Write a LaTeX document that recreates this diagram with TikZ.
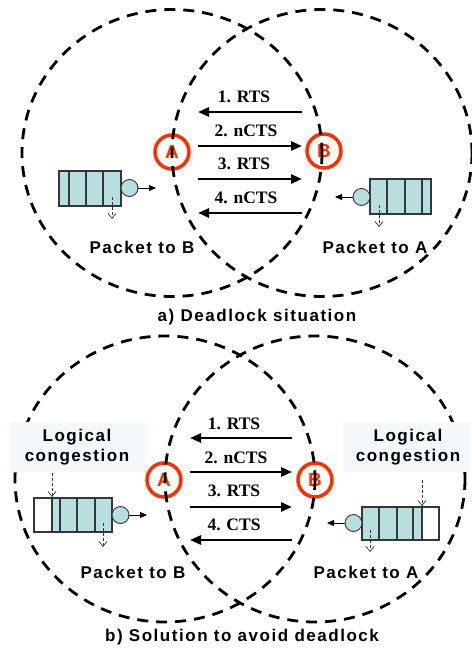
\documentclass[tikz,border=0pt]{standalone}
\usepackage{fontspec}
\setmainfont{Liberation Sans}
\newfontfamily\lblfont[LetterSpace=9]{Liberation Sans}
\newfontfamily\msgfont{Liberation Serif}
\usetikzlibrary{arrows.meta}

\definecolor{stationred}{RGB}{255,48,0}
\definecolor{qfill}{RGB}{184,222,224}
\definecolor{qline}{RGB}{50,55,55}
\definecolor{notebg}{RGB}{243,249,251}

\tikzset{
  rangeline/.style={line width=2.8pt, dash pattern=on 11pt off 8pt},
  station/.style={circle, draw=stationred, line width=3.5pt, minimum size=34pt,
    inner sep=0pt, text=stationred, font=\bfseries\fontsize{19}{19}\selectfont},
  msgarrow/.style={line width=2.6pt, -{Triangle[length=11pt,width=9pt]}},
  msglabel/.style={font=\msgfont\bfseries\fontsize{17.5}{18}\selectfont, inner sep=0pt},
  captiontext/.style={font=\lblfont\bfseries\fontsize{17}{20}\selectfont, inner sep=0pt, align=center},
  server/.style={circle, draw=qline, fill=qfill, line width=0.9pt, minimum size=17pt, inner sep=0pt},
  qcell/.style={draw=qline, fill=qfill, line width=1.1pt},
  qempty/.style={draw=qline, fill=white, line width=1.1pt},
  outarrow/.style={line width=0.9pt, -{Triangle[length=7pt,width=6pt]}},
  droparrow/.style={draw=qline, line width=0.7pt, dash pattern=on 3pt off 2pt,
    -{Straight Barb[length=5pt,width=8pt,line width=0.7pt]}},
  notebox/.style={fill=notebg, draw=none},
}

\begin{document}
\begin{tikzpicture}[x=1pt,y=-1pt]
\useasboundingbox (0,0) rectangle (471,652);
\fill[white] (0,0) rectangle (471,652);

% ---------------- a) Deadlock situation ----------------
\node[station] (A1) at (172,152) {A};
\node[station] (B1) at (324,151) {B};
\draw[rangeline] (172,153) ellipse [x radius=150, y radius=143.5];
\draw[rangeline] (322,153) ellipse [x radius=150, y radius=143.5];

\coordinate (a1l) at (198,112); \coordinate (a1r) at (302,112);
\coordinate (a2l) at (198,146); \coordinate (a2r) at (302,146);
\coordinate (a3l) at (198,179); \coordinate (a3r) at (302,179);
\coordinate (a4l) at (198,213); \coordinate (a4r) at (302,213);
\draw[msgarrow] (a1r) -- (a1l);
\draw[msgarrow] (a2l) -- (a2r);
\draw[msgarrow] (a3l) -- (a3r);
\draw[msgarrow] (a4r) -- (a4l);
\node[msglabel] (m1) at (244,97) {1. RTS};
\node[msglabel] (m2) at (246,131) {2. nCTS};
\node[msglabel] (m3) at (244,164) {3. RTS};
\node[msglabel] (m4) at (246,198) {4. nCTS};

% queue at A
\draw[qcell] (59,171) rectangle (121,206);
\draw[qline, line width=1.1pt] (69,171) -- (69,206) (86,171) -- (86,206) (103,171) -- (103,206);
\node[server] (sA1) at (129.5,188) {};
\coordinate (oA1) at (156,188);
\draw[outarrow] (sA1) -- (oA1);
\coordinate (dA1s) at (112,197); \coordinate (dA1e) at (112,219);
\draw[droparrow] (dA1s) -- (dA1e);

% queue at B
\draw[qcell] (370,179) rectangle (431,214);
\draw[qline, line width=1.1pt] (387,179) -- (387,214) (405,179) -- (405,214) (422,179) -- (422,214);
\node[server] (sB1) at (361.5,197) {};
\coordinate (oB1) at (335,197);
\draw[outarrow] (sB1) -- (oB1);
\coordinate (dB1s) at (379,205); \coordinate (dB1e) at (379,227);
\draw[droparrow] (dB1s) -- (dB1e);

\node[captiontext] (pB1) at (142,247) {Packet to B};
\node[captiontext] (pA1) at (375,247) {Packet to A};
\node[captiontext] (capA) at (257,317) {a) Deadlock situation};

% ---------------- b) Solution to avoid deadlock ----------------
\node[station] (A2) at (164,480) {A};
\node[station] (B2) at (315,480) {B};
\draw[rangeline] (165,479) ellipse [x radius=150, y radius=143];
\draw[rangeline] (315,479) ellipse [x radius=150, y radius=143];

\fill[notebox] (10,422) rectangle (147,472);
\fill[notebox] (343,422) rectangle (471,472);
\node[captiontext] (lcA) at (77,447) {Logical\\congestion};
\node[captiontext] (lcB) at (408,447) {Logical\\congestion};

\coordinate (b1l) at (190,438); \coordinate (b1r) at (292,438);
\coordinate (b2l) at (190,472); \coordinate (b2r) at (292,472);
\coordinate (b3l) at (190,507); \coordinate (b3r) at (292,507);
\coordinate (b4l) at (190,540); \coordinate (b4r) at (292,540);
\draw[msgarrow] (b1r) -- (b1l);
\draw[msgarrow] (b2l) -- (b2r);
\draw[msgarrow] (b3l) -- (b3r);
\draw[msgarrow] (b4r) -- (b4l);
\node[msglabel] (n1) at (234,424) {1. RTS};
\node[msglabel] (n2) at (236,458) {2. nCTS};
\node[msglabel] (n3) at (234,491) {3. RTS};
\node[msglabel] (n4) at (234,525) {4. CTS};

% queue at A with a reserved free slot
\draw[qcell] (52,498) rectangle (112,532);
\draw[qempty] (34,498) rectangle (52,532);
\draw[qline, line width=1.1pt] (60,498) -- (60,532) (77,498) -- (77,532) (95,498) -- (95,532);
\node[server] (sA2) at (120.5,515) {};
\coordinate (oA2) at (147,515);
\draw[outarrow] (sA2) -- (oA2);
\coordinate (cA2s) at (52,473); \coordinate (cA2e) at (52,497);
\draw[droparrow] (cA2s) -- (cA2e);
\coordinate (dA2s) at (103,523); \coordinate (dA2e) at (103,547);
\draw[droparrow] (dA2s) -- (dA2e);

% queue at B with a reserved free slot
\draw[qcell] (362,507) rectangle (422,540);
\draw[qempty] (422,507) rectangle (439,540);
\draw[qline, line width=1.1pt] (379,507) -- (379,540) (397,507) -- (397,540) (413,507) -- (413,540);
\node[server] (sB2) at (353.5,523) {};
\coordinate (oB2) at (327,523);
\draw[outarrow] (sB2) -- (oB2);
\coordinate (cB2s) at (422,480); \coordinate (cB2e) at (422,506);
\draw[droparrow] (cB2s) -- (cB2e);
\coordinate (dB2s) at (370,530); \coordinate (dB2e) at (370,552);
\draw[droparrow] (dB2s) -- (dB2e);

\node[captiontext] (pB2) at (133,572) {Packet to B};
\node[captiontext] (pA2) at (366,572) {Packet to A};
\node[captiontext] (capB) at (242,637) {b) Solution to avoid deadlock};
\end{tikzpicture}
\end{document}
